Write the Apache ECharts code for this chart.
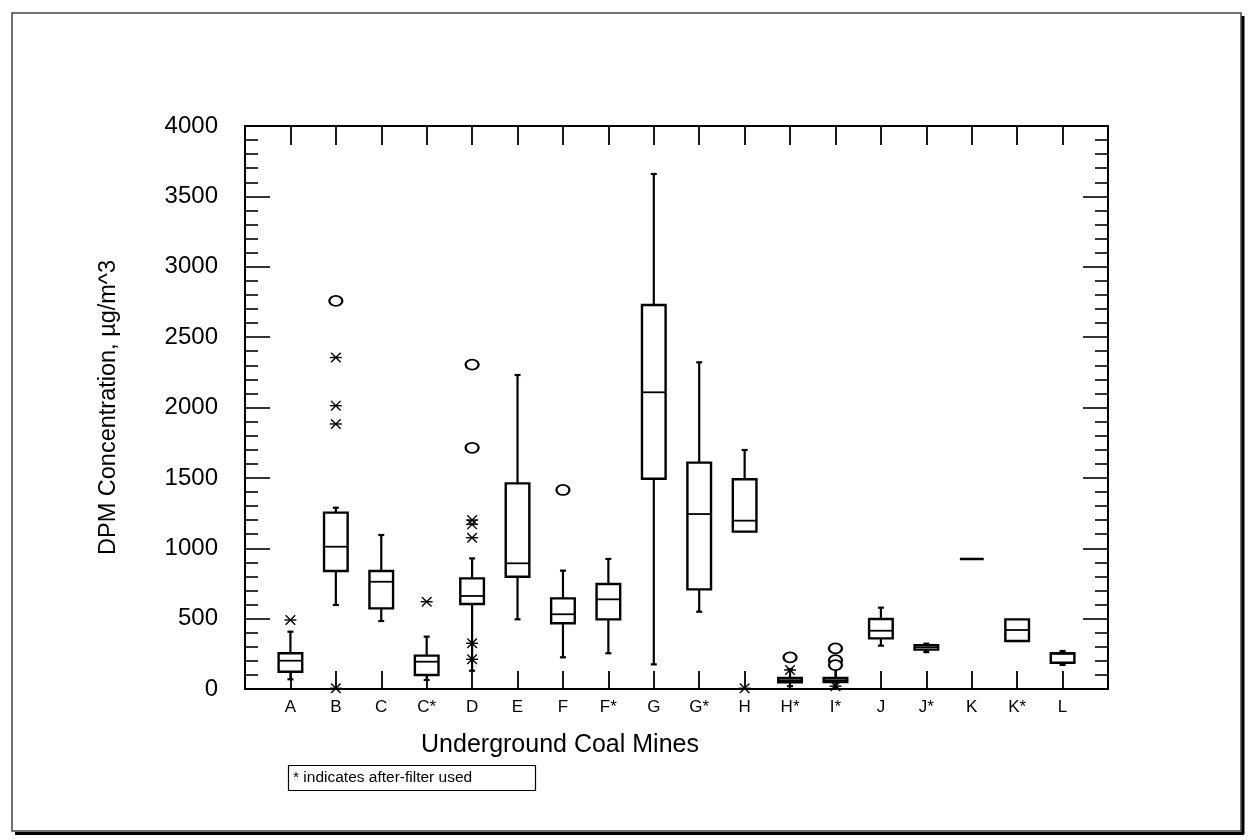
<!DOCTYPE html>
<html>
<head>
<meta charset="utf-8">
<script src="https://cdn.jsdelivr.net/npm/echarts@6/dist/echarts.min.js"></script>
<style>html,body{margin:0;padding:0;background:#fff}#c{width:1249px;height:840px}</style>
</head>
<body>
<div id="c"></div>
<script>
// ---- data ----
const categories = ['A','B','C','C*','D','E','F','F*','G','G*','H','H*','I*','J','J*','K','K*','L'];
const whiskerLow  = [69, 597, 483, 64, 130, 495, 225, 254, 175, 549, 1118, 20, 10, 308, 262, 924, 341, 171];
const q1          = [123, 838, 573, 99, 604, 798, 467, 495, 1494, 708, 1118, 48, 50, 360, 280, 924, 341, 187];
const median      = [201, 1011, 762, 194, 661, 893, 531, 637, 2108, 1243, 1196, 62, 62, 414, 297, 924, 419, 250];
const q3          = [254, 1253, 838, 237, 786, 1461, 644, 746, 2728, 1608, 1490, 78, 78, 497, 312, 924, 495, 254];
const whiskerHigh = [407, 1288, 1094, 372, 928, 2231, 841, 924, 3659, 2321, 1698, 140, 150, 578, 322, 924, 495, 270];

const starCats   = ['A','B','B','B','B','C*','D','D','D','D','D','H','H*','I*'];
const starValues = [490, 2355, 2013, 1883, 5, 620, 1200, 1170, 1075, 325, 211, 5, 135, 20];
const circleCats   = ['B','D','D','F','H*','I*','I*','I*'];
const circleValues = [2757, 2305, 1714, 1414, 225, 289, 205, 170];

const yTicks = [0, 500, 1000, 1500, 2000, 2500, 3000, 3500, 4000];
const xAxisCats = [''].concat(categories).concat(['']);

// ---- chart ----
const idx = c => categories.indexOf(c) + 1;
const chart = echarts.init(document.getElementById('c'), null, {renderer: 'canvas'});
const narrow = "'Liberation Sans Narrow','Liberation Sans',Arial,sans-serif";
const sans = "'Liberation Sans',Arial,sans-serif";

function boxItem(params, api) {
  const x = api.value(0);
  const lo = api.coord([x, api.value(1)]);
  const a = api.coord([x, api.value(2)]);
  const m = api.coord([x, api.value(3)]);
  const b = api.coord([x, api.value(4)]);
  const hi = api.coord([x, api.value(5)]);
  const hw = api.size([1, 0])[0] * 0.26;
  const cap = 3;
  const st = {stroke: '#000', lineWidth: 2.2, fill: null};
  const ch = [];
  if (hi[1] < b[1] - 0.5) {
    ch.push({type: 'line', shape: {x1: a[0], y1: b[1], x2: a[0], y2: hi[1]}, style: st});
    ch.push({type: 'line', shape: {x1: a[0] - cap, y1: hi[1], x2: a[0] + cap, y2: hi[1]}, style: st});
  }
  if (lo[1] > a[1] + 0.5) {
    ch.push({type: 'line', shape: {x1: a[0], y1: a[1], x2: a[0], y2: lo[1]}, style: st});
    ch.push({type: 'line', shape: {x1: a[0] - cap, y1: lo[1], x2: a[0] + cap, y2: lo[1]}, style: st});
  }
  ch.push({type: 'rect', shape: {x: a[0] - hw, y: b[1], width: 2 * hw, height: a[1] - b[1]},
    style: {stroke: '#000', lineWidth: 2.4, fill: '#fff'}});
  ch.push({type: 'line', shape: {x1: a[0] - hw, y1: m[1], x2: a[0] + hw, y2: m[1]}, style: {stroke: '#000', lineWidth: 1.8}});
  return {type: 'group', children: ch};
}

function starItem(params, api) {
  const p = api.coord([api.value(0), api.value(1)]);
  const st = {stroke: '#000', lineWidth: 1.4};
  return {type: 'group', x: p[0], y: p[1], children: [
    {type: 'line', shape: {x1: -6, y1: 0, x2: 6, y2: 0}, style: st},
    {type: 'line', shape: {x1: -4.8, y1: -4.8, x2: 4.8, y2: 4.8}, style: st},
    {type: 'line', shape: {x1: -4.8, y1: 4.8, x2: 4.8, y2: -4.8}, style: st}
  ]};
}

const yCommon = {
  type: 'value', min: 0, max: 4000, interval: 500,
  axisLine: {show: true, onZero: false, lineStyle: {color: '#000', width: 2}},
  axisTick: {show: true, inside: true, length: 25, lineStyle: {color: '#000', width: 1.6}},
  minorTick: {show: true, splitNumber: 5, length: 13, lineStyle: {color: '#000', width: 1.6}},
  splitLine: {show: false}
};
const xCommon = {
  type: 'category', data: xAxisCats, boundaryGap: false,
  axisLine: {show: true, onZero: false, lineStyle: {color: '#000', width: 2}},
  axisTick: {show: true, inside: true, length: 18, interval: 0, lineStyle: {color: '#000', width: 1.8}},
  splitLine: {show: false}
};

chart.setOption({
  backgroundColor: '#fff',
  animation: false,
  grid: {left: 245, top: 126, right: 141, bottom: 151, containLabel: false},
  xAxis: [
    Object.assign({}, xCommon, {
      position: 'bottom',
      axisLabel: {interval: 0, color: '#000', fontSize: 17, fontFamily: narrow, margin: 10}
    }),
    Object.assign({}, xCommon, {position: 'top', axisTick: Object.assign({}, xCommon.axisTick, {length: 19}), axisLabel: {show: false}})
  ],
  yAxis: [
    Object.assign({}, yCommon, {
      position: 'left',
      axisLabel: {color: '#000', fontSize: 24, fontFamily: sans, margin: 27,
        formatter: v => (yTicks.indexOf(v) >= 0 ? String(v) : '')},
      name: 'DPM Concentration, µg/m^3', nameLocation: 'middle', nameGap: 124,
      nameTextStyle: {color: '#000', fontSize: 23.5, fontFamily: sans}
    }),
    Object.assign({}, yCommon, {position: 'right', axisLabel: {show: false}})
  ],
  graphic: [
    {type: 'rect', shape: {x: 12, y: 13, width: 1229, height: 818}, style: {fill: null, stroke: '#444', lineWidth: 1.5}, silent: true},
    {type: 'line', shape: {x1: 1243, y1: 16, x2: 1243, y2: 834}, style: {stroke: '#000', lineWidth: 3}, silent: true},
    {type: 'line', shape: {x1: 15, y1: 833.5, x2: 1244, y2: 833.5}, style: {stroke: '#000', lineWidth: 3}, silent: true},
    {type: 'text', x: 560, y: 745, style: {text: 'Underground Coal Mines', fill: '#000', fontSize: 25, fontFamily: narrow, align: 'center', verticalAlign: 'middle'}, silent: true},
    {type: 'rect', shape: {x: 288.5, y: 765.5, width: 247, height: 25}, style: {fill: '#fff', stroke: '#000', lineWidth: 1.2}, silent: true},
    {type: 'text', x: 293, y: 778, style: {text: '* indicates after-filter used', fill: '#000', fontSize: 15.5, fontFamily: narrow, verticalAlign: 'middle'}, silent: true}
  ],
  series: [
    {
      type: 'custom', xAxisIndex: 0, yAxisIndex: 0,
      renderItem: boxItem,
      encode: {x: 0, y: [1, 2, 3, 4, 5]},
      data: categories.map((c, i) => [i + 1, whiskerLow[i], q1[i], median[i], q3[i], whiskerHigh[i]]),
      z: 3
    },
    {
      type: 'custom', xAxisIndex: 0, yAxisIndex: 0,
      renderItem: starItem,
      encode: {x: 0, y: 1},
      data: starCats.map((c, i) => [idx(c), starValues[i]]),
      z: 4
    },
    {
      type: 'scatter', xAxisIndex: 0, yAxisIndex: 0,
      symbol: 'emptyCircle', symbolSize: [13, 10],
      itemStyle: {color: '#000', borderColor: '#000', borderWidth: 1.3, opacity: 1},
      data: circleCats.map((c, i) => [idx(c), circleValues[i]]),
      z: 4
    }
  ]
});
</script>
</body>
</html>
